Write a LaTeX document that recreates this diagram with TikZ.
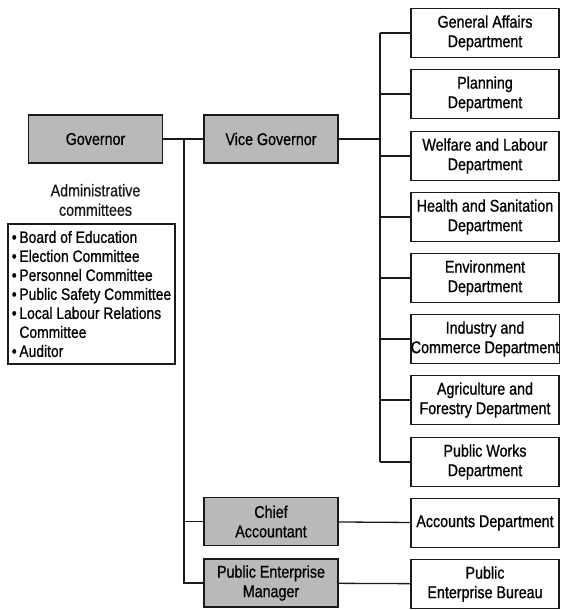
\documentclass[tikz,border=0pt]{standalone}
\usepackage{fontspec}
\setmainfont{Liberation Sans}[FakeStretch=0.84, FakeBold=0.8]
\usepackage{xcolor}
\usepackage{tikz}
\definecolor{ink}{HTML}{1A1A1A}
\definecolor{shade}{HTML}{B9B9B9}
\tikzset{
  conn/.style={draw=ink, line width=1.3pt},
  dept/.style={draw=ink, line width=1.4pt, fill=white, minimum width=148pt, minimum height=49pt,
    inner sep=0pt, align=center, font=\fontsize{17}{19.5}\selectfont},
  office/.style={dept, fill=shade, minimum width=134pt, minimum height=48pt},
  lbl/.style={text=ink, align=center, font=\fontsize{17}{19.5}\selectfont},
  listbox/.style={draw=ink, line width=1.4pt, minimum width=167pt, minimum height=140pt,
    inner sep=0pt, align=left, font=\fontsize{16.5}{19}\selectfont}
}
\newcommand{\itm}{\textbullet\,}
\newcommand{\itmgap}{\hphantom{\textbullet\,}}

\begin{document}
\begin{tikzpicture}[x=1pt, y=-1pt]
  \useasboundingbox (0,0) rectangle (560,610);

  \node[office] (gov)    at (95.5,139) {Governor};
  \node[office] (vg)     at (271,139)  {Vice Governor};
  \node[office] (chief)  at (271,521.5) {Chief\\Accountant};
  \node[office] (pem)    at (271,583)  {Public Enterprise\\Manager};

  \node[lbl] (adm) at (95.5,200) {Administrative\\committees};
  \node[listbox] (comm) at (91.5,294) {\itm Board of Education\\
    \itm Election Committee\\
    \itm Personnel Committee\\
    \itm Public Safety Committee\\
    \itm Local Labour Relations\\
    \itmgap Committee\\
    \itm Auditor};

  \node[dept] (d1) at (485,33)  {General Affairs\\Department};
  \node[dept] (d2) at (485,94)  {Planning\\Department};
  \node[dept] (d3) at (485,156) {Welfare and Labour\\Department};
  \node[dept] (d4) at (485,217) {Health and Sanitation\\Department};
  \node[dept] (d5) at (485,278) {Environment\\Department};
  \node[dept] (d6) at (485,339) {Industry and\\Commerce Department};
  \node[dept] (d7) at (485,400) {Agriculture and\\Forestry Department};
  \node[dept] (d8) at (485,462) {Public Works\\Department};
  \node[dept] (acct) at (485,523) {Accounts Department};
  \node[dept] (bur)  at (485,584) {Public\\Enterprise Bureau};

  \coordinate (lbus) at (184,139);
  \coordinate (rbus) at (380,139);

  \draw[conn] (gov) -- (vg);
  \draw[conn] (lbus) |- (pem);
  \draw[conn] (lbus |- chief) -- (chief);
  \draw[conn] (chief) -- (acct);
  \draw[conn] (pem) -- (bur);

  \draw[conn] (vg) -- (rbus);
  \draw[conn] (rbus |- d1) -- (rbus |- d8);
  \foreach \i in {1,...,8}
    \draw[conn] (rbus |- d\i) -- (d\i);
\end{tikzpicture}
\end{document}
